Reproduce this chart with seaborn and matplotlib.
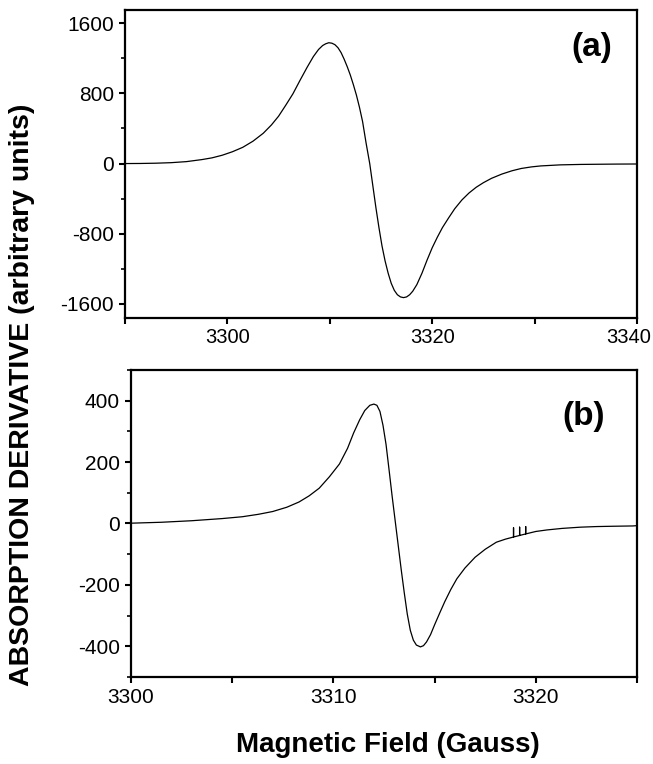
import matplotlib
matplotlib.use("Agg")
import matplotlib.pyplot as plt
import seaborn as sns
import pandas as pd
from matplotlib.ticker import MultipleLocator
from matplotlib.transforms import ScaledTranslation

# ---- data (panel a) ----
field_a = [3290.0, 3291.5, 3293.0, 3294.5, 3296.0, 3297.5, 3298.5, 3299.5, 3300.5,
           3301.5, 3302.5, 3303.5, 3304.3, 3305.0, 3305.7, 3306.4, 3307.1, 3307.8,
           3308.4, 3308.9, 3309.3, 3309.6, 3309.9, 3310.2, 3310.5, 3310.8, 3311.1,
           3311.4, 3311.7, 3312.0, 3312.3, 3312.6, 3312.9, 3313.2, 3313.55, 3313.9,
           3314.2, 3314.5, 3314.8, 3315.1, 3315.4, 3315.7, 3316.0, 3316.3, 3316.6,
           3316.9, 3317.2, 3317.5, 3317.8, 3318.1, 3318.5, 3319.0, 3319.5, 3320.0,
           3320.5, 3321.0, 3321.6, 3322.2, 3322.9, 3323.6, 3324.3, 3325.0, 3325.8,
           3326.8, 3327.8, 3328.7, 3329.7, 3330.6, 3332.5, 3334.5, 3336.2, 3338.0,
           3340.0]
signal_a = [0, 1, 4, 10, 22, 45, 65, 95, 135,
            185, 255, 345, 440, 540, 665, 795, 950, 1100,
            1220, 1300, 1345, 1365, 1377, 1372, 1355, 1320, 1265,
            1190, 1105, 1010, 900, 780, 640, 480, 230, 0,
            -250, -500, -730, -940, -1110, -1250, -1365, -1445, -1495,
            -1520, -1528, -1520, -1495, -1455, -1380, -1250, -1100, -960,
            -840, -730, -620, -515, -415, -335, -270, -218, -168,
            -120, -82, -56, -38, -27, -15, -10, -8, -6,
            -5]

# ---- data (panel b) ----
field_b = [3300.0, 3301.5, 3303.0, 3304.5, 3305.5, 3306.3, 3307.0, 3307.7, 3308.3,
           3308.8, 3309.3, 3309.8, 3310.3, 3310.7, 3311.0, 3311.3, 3311.55, 3311.8,
           3312.0, 3312.15, 3312.3, 3312.45, 3312.6, 3312.75, 3312.9, 3313.05, 3313.2,
           3313.35, 3313.5, 3313.65, 3313.8, 3313.95, 3314.1, 3314.3, 3314.45, 3314.6,
           3314.8, 3315.0, 3315.25, 3315.5, 3315.8, 3316.1, 3316.5, 3317.0, 3317.5,
           3318.05, 3318.5, 3318.9, 3318.9, 3318.9, 3319.2, 3319.2, 3319.2, 3319.5,
           3319.5, 3319.5, 3320.0, 3320.55, 3321.3, 3322.2, 3323.0, 3323.8, 3324.8,
           3325.0]
signal_b = [1, 4, 9, 16, 22, 30, 39, 53, 70,
            90, 115, 152, 194, 245, 295, 338, 368, 385,
            389, 385, 365, 320, 258, 175, 90, 10, -70,
            -150, -225, -295, -348, -380, -396, -402, -398, -386,
            -362, -330, -292, -255, -215, -180, -145, -110, -84,
            -61, -51, -44, -14, -44, -39, -12, -39, -34,
            -10, -34, -26, -21, -16, -12, -10, -9, -8,
            -7]

panel_a_xticks = [3290, 3300, 3310, 3320, 3330, 3340]
panel_a_xlabels = ["", "3300", "", "3320", "", "3340"]
panel_a_yticks = [-1600, -800, 0, 800, 1600]
panel_b_xticks = [3300, 3305, 3310, 3315, 3320, 3325]
panel_b_xlabels = ["3300", "", "3310", "", "3320", ""]
panel_b_yticks = [-400, -200, 0, 200, 400]

df_a = pd.DataFrame({"field": field_a, "signal": signal_a})
df_b = pd.DataFrame({"field": field_b, "signal": signal_b})

sns.set_theme(style="ticks")
plt.rcParams["font.family"] = ["Liberation Sans", "DejaVu Sans"]
plt.rcParams["axes.unicode_minus"] = False
plt.rcParams["text.color"] = "black"
plt.rcParams["axes.labelcolor"] = "black"
plt.rcParams["xtick.color"] = "black"
plt.rcParams["ytick.color"] = "black"

fig = plt.figure(figsize=(6.53, 7.64), dpi=100)
ax_a = fig.add_axes([0.1914, 0.5838, 0.7841, 0.4031])
ax_b = fig.add_axes([0.2006, 0.1139, 0.7749, 0.4018])

for ax, df in ((ax_a, df_a), (ax_b, df_b)):
    sns.lineplot(data=df, x="field", y="signal", ax=ax, color="black",
                 linewidth=0.9, sort=False, estimator=None)
    ax.set_xlabel("")
    ax.set_ylabel("")
    for s in ax.spines.values():
        s.set_linewidth(1.6)
        s.set_color("black")
    ax.tick_params(axis="both", which="major", direction="out", length=4.5,
                   width=1.5, labelsize=15, color="black", labelcolor="black")
    ax.tick_params(axis="both", which="minor", direction="out", length=3,
                   width=1.2, color="black")

ax_a.set_xlim(3290, 3340)
ax_a.set_ylim(-1760, 1750)
ax_a.set_xticks(panel_a_xticks)
ax_a.set_xticklabels(panel_a_xlabels)
ax_a.set_yticks(panel_a_yticks)
ax_a.yaxis.set_minor_locator(MultipleLocator(400))
ax_a.tick_params(axis="x", labelsize=14.5, pad=3)
# keep the last label inside the canvas
last = ax_a.get_xticklabels()[-1]
last.set_transform(last.get_transform() + ScaledTranslation(-6 / 72, 0, fig.dpi_scale_trans))

ax_b.set_xlim(3300, 3325)
ax_b.set_ylim(-500, 500)
ax_b.set_xticks(panel_b_xticks)
ax_b.set_xticklabels(panel_b_xlabels)
ax_b.set_yticks(panel_b_yticks)
ax_b.yaxis.set_minor_locator(MultipleLocator(100))

ax_a.text(0.912, 0.877, "(a)", transform=ax_a.transAxes, ha="center", va="center",
          fontsize=24, fontweight="bold")
ax_b.text(0.895, 0.85, "(b)", transform=ax_b.transAxes, ha="center", va="center",
          fontsize=24, fontweight="bold")

fig.text(0.034, 0.483, "ABSORPTION DERIVATIVE (arbitrary units)", rotation=90,
         ha="center", va="center", fontsize=20.5, fontweight="bold")
fig.text(0.594, 0.025, "Magnetic Field (Gauss)", ha="center", va="center",
         fontsize=20, fontweight="bold")

fig.savefig("out.png", dpi=100)
